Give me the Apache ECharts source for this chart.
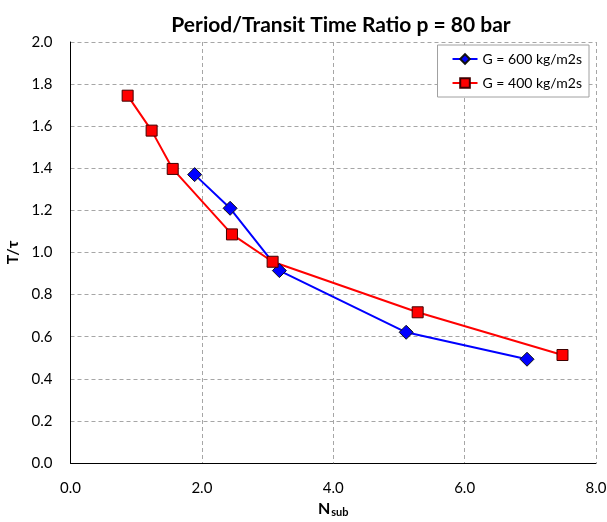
<!DOCTYPE html>
<html><head><meta charset="utf-8">
<script src="https://cdn.jsdelivr.net/npm/echarts@6/dist/echarts.min.js"></script>
<style>html,body{margin:0;padding:0;background:#fff}#c{width:607px;height:522px}</style>
</head><body><div id="c"></div>
<script>
const titleText = 'Period/Transit Time Ratio p = 80 bar';
const seriesNames = ['G = 600 kg/m2s', 'G = 400 kg/m2s'];
const g600_x = [1.89, 2.43, 3.18, 5.11, 6.95];
const g600_y = [1.37, 1.21, 0.914, 0.621, 0.493];
const g400_x = [0.87, 1.235, 1.556, 2.458, 3.077, 5.285, 7.49];
const g400_y = [1.745, 1.579, 1.397, 1.086, 0.956, 0.716, 0.513];
const xTicks = [0, 2, 4, 6, 8];
const yTicks = [0, 0.2, 0.4, 0.6, 0.8, 1.0, 1.2, 1.4, 1.6, 1.8, 2.0];

const FONT = 'Lato';
const chart = echarts.init(document.getElementById('c'), null, {renderer: 'canvas'});
const pair = (xs, ys) => xs.map((x, i) => [x, ys[i]]);
chart.setOption({
  animation: false,
  backgroundColor: '#fff',
  textStyle: {fontFamily: FONT},
  title: {
    text: titleText, left: 336, top: 10, textAlign: 'center',
    textStyle: {fontFamily: FONT, fontWeight: 'bold', fontSize: 21, color: '#000'}
  },
  grid: {left: 70.5, right: 11, top: 42, bottom: 59, containLabel: false, outerBoundsMode: 'none'},
  legend: {
    orient: 'vertical', right: 18, top: 45,
    backgroundColor: '#fff', borderColor: '#a0a0a0', borderWidth: 1,
    padding: [7, 7, 7, 14], itemGap: 10, itemWidth: 25, itemHeight: 12,
    textStyle: {fontFamily: FONT, fontSize: 14, color: '#000'},
    data: seriesNames
  },
  xAxis: {
    type: 'value', min: xTicks[0], max: xTicks[xTicks.length - 1], interval: 2,
    name: '{b|N}{s|sub}', nameLocation: 'middle', nameGap: 27,
    nameTextStyle: {rich: {
      b: {fontFamily: FONT, fontWeight: 'bold', fontSize: 16, color: '#000', verticalAlign: 'bottom', height: 20},
      s: {fontFamily: FONT, fontWeight: 'bold', fontSize: 11, color: '#000', verticalAlign: 'bottom', padding: [0, 0, -4, 1], height: 20}
    }},
    axisLine: {show: true, lineStyle: {color: '#000', width: 1}},
    axisTick: {show: false},
    axisLabel: {fontFamily: FONT, fontSize: 15, color: '#000', margin: 18, formatter: v => v.toFixed(1)},
    splitLine: {show: true, lineStyle: {color: '#a6a6a6', type: [4, 3], width: 1}}
  },
  yAxis: {
    type: 'value', min: yTicks[0], max: yTicks[yTicks.length - 1], interval: 0.2,
    name: 'T/τ', nameLocation: 'middle', nameGap: 42, nameRotate: 90,
    nameTextStyle: {fontFamily: FONT, fontWeight: 'bold', fontSize: 16, color: '#000'},
    axisLine: {show: true, lineStyle: {color: '#000', width: 1}},
    axisTick: {show: false},
    axisLabel: {fontFamily: FONT, fontSize: 15, color: '#000', margin: 18, formatter: v => v.toFixed(1)},
    splitLine: {show: true, lineStyle: {color: '#a6a6a6', type: [4, 3], width: 1}}
  },
  series: [
    {
      name: seriesNames[0], type: 'line', data: pair(g600_x, g600_y),
      symbol: 'diamond', symbolSize: 14,
      lineStyle: {color: '#0000ff', width: 2},
      itemStyle: {color: '#0000ff', borderColor: '#111', borderWidth: 1}
    },
    {
      name: seriesNames[1], type: 'line', data: pair(g400_x, g400_y),
      symbol: 'rect', symbolSize: 11,
      lineStyle: {color: '#ff0000', width: 2},
      itemStyle: {color: '#ff0000', borderColor: '#400000', borderWidth: 1}
    }
  ]
});
</script></body></html>
